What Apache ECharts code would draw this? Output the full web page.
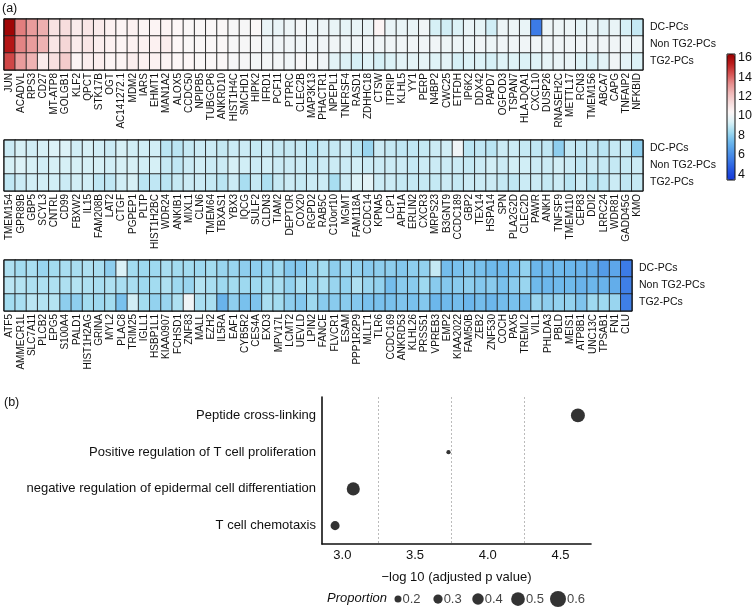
<!DOCTYPE html>
<html>
<head>
<meta charset="utf-8">
<script src="https://cdn.jsdelivr.net/npm/echarts@6/dist/echarts.min.js"></script>
<style>
  html, body { margin: 0; padding: 0; background: #fff; }
  #chart { width: 755px; height: 608px; }
</style>
</head>
<body>
<div id="chart"></div>
<script>
// rows of every heatmap panel
var groups = ['DC-PCs', 'Non TG2-PCs', 'TG2-PCs'];

// panel 1
var genes1 = ['JUN','ACADVL','RPS3','CD27','MT-ATP8','GOLGB1','KLF2','QPCT','STK17B','OGT','AC141272.1','MDM2','IARS','EHMT1','MAN1A2','ALOX5','CCDC50','NPIPB5','TUBGCP6','ANKRD10','HIST1H4C','SMCHD1','HIPK2',
  'IFRD1','PCF11','PTPRC','CLEC2B','MAP3K13','PHACTR1','NPEPL1','TNFRSF4','RASD1','ZDHHC18','CTSW','ITPRIP','KLHL5','YY1','PERP','N4BP2','CWC25','ETFDH','IP6K2','DDX42','PAPD7','OGFOD3',
  'TSPAN7','HLA-DQA1','CXCL10','DUSP26','RNASEH2C','METTL17','RCN3','TMEM156','ABCA7','CAPG','TNFAIP2','NFKBID'];
var dc1  = [16.2,13.6,13.0,12.6,11.1,11.3,10.8,11.0,10.8,10.6,10.5,10.6,10.5,10.5,10.5,10.4,10.3,10.3,10.3,10.3,10.2,10.2,10.3,
  9.8,9.8,9.9,10.1,9.9,9.9,9.8,9.7,9.8,9.8,10.5,9.8,9.8,9.8,10.0,9.3,9.2,9.4,9.8,9.7,9.2,9.9,
  9.9,9.8,5.5,9.9,9.9,9.9,9.7,9.8,9.6,9.8,9.3,9.0];
var non1 = [15.6,13.5,13.0,12.5,11.0,11.5,10.8,11.0,10.7,10.6,10.5,10.6,10.6,10.6,10.7,10.4,10.3,10.3,10.3,10.3,10.2,10.2,10.2,
  10.0,10.0,10.0,10.0,10.0,10.0,10.0,9.9,10.0,10.0,10.0,10.0,10.0,10.0,10.0,10.0,9.9,9.9,9.9,10.0,9.9,10.0,
  10.0,10.0,10.0,10.0,10.0,10.0,10.0,10.0,10.0,10.0,9.9,9.9];
var tg1  = [14.6,13.0,12.5,10.8,11.2,11.8,10.5,10.7,10.7,10.5,10.5,10.7,10.6,10.6,10.5,10.4,10.4,10.3,10.3,10.3,10.2,10.2,10.1,
  10.1,10.1,10.0,10.2,10.1,10.0,9.6,9.4,9.3,9.5,9.3,9.4,9.6,9.6,9.7,9.5,9.6,9.3,9.4,9.4,9.3,9.5,
  9.5,9.4,9.5,9.7,9.8,9.8,9.5,9.4,9.6,10.0,9.6,9.4];

// panel 2
var genes2 = ['TMEM154','GPR89B','GBP5','SCYL3','CNTRL','CD99','FBXW2','IL15','FAM208B','LAT2','CTGF','PGPEP1','PLTP','HIST1H2BC','WDR24','ANKIB1','MIXL1','CLN6','TMEM64','TBXAS1','YBX3','IQCG','SULF2',
  'CLDN3','TIAM2','DEPTOR','COX20','RGPD2','RAB5C','C10orf10','MGMT','FAM118A','CCDC14','KPNA5','LCP1','APH1A','ERLIN2','CXCR3','MRPS23','B3GNT9','CCDC189','GBP2','TEX14','HSPA14','SPN',
  'PLA2G2D','CLEC2D','PAWR','ANKH','TNFSF9','TMEM110','CEP83','DDI2','LRRC24','WDR81','GADD45G','KMO'];
var dc2  = [9.1,9.3,9.2,9.3,9.4,9.4,9.2,9.3,9.2,9.1,9.3,9.2,9.2,9.2,8.8,8.8,9.0,9.1,9.1,9.0,9.1,9.1,9.0,
  9.1,9.0,9.0,9.0,8.8,9.0,9.0,9.1,8.8,8.2,9.1,9.0,8.9,8.9,9.0,9.1,9.2,10.0,8.8,8.9,8.8,9.1,
  9.1,9.0,8.9,8.9,8.0,9.0,8.9,8.9,8.8,9.0,9.0,8.0];
var non2 = [9.3,9.4,9.3,9.2,9.3,9.3,9.3,9.3,9.3,9.2,9.3,9.3,9.2,9.3,9.0,8.9,9.1,9.2,9.1,9.1,9.3,9.2,9.1,
  9.2,9.1,9.1,9.1,9.0,9.1,9.1,9.1,9.2,9.1,9.1,9.1,9.1,9.0,9.1,9.1,9.1,9.1,9.0,9.1,9.2,9.1,
  9.2,9.2,9.1,9.1,9.2,9.1,8.9,9.1,9.0,9.0,9.0,9.1];
var tg2  = [8.9,9.1,9.2,9.2,9.2,9.1,9.2,9.2,8.9,8.9,9.2,9.3,8.8,8.9,8.8,9.0,9.1,9.1,9.0,8.8,9.1,8.5,9.0,
  8.6,9.0,9.1,9.0,9.1,9.1,8.5,9.1,9.4,9.6,9.1,9.1,9.0,9.0,9.0,9.0,9.1,9.0,9.1,9.1,9.1,9.0,
  8.9,9.1,9.1,9.0,9.1,8.8,9.1,8.8,8.9,9.1,8.9,9.0];

// panel 3
var genes3 = ['ATF5','AMMECR1L','SLC7A11','PLCB2','EPG5','S100A4','PALD1','HIST1H2AG','GRINA','MYL2','PLAC8','TRIM25','IGLL1','HSBP1L1','KIAA0907','FCHSD1','ZNF83','MALL','EZH2','IL5RA','EAF1','CYB5R2','CES4A',
  'EXD3','MPV17L','LCMT2','UEVLD','LPIN2','FANCE','FLVCR1','ESAM','PPP1R2P9','MLLT1','TLR6','CCDC169','ANKRD53','KLHL26','PRSS51','VPREB3','EMP2','KIAA2022','FAM50B','ZEB2','ZNF530','COCH',
  'PAX5','TREML2','VIL1','PHLDA3','PBLD','MEIS1','ATP8B1','UNC13C','TPSAB1','FN1','CLU'];
var dc3  = [8.6,8.4,8.5,8.2,8.4,8.5,8.5,8.6,8.5,8.0,9.4,8.4,8.3,8.3,8.5,8.4,8.4,8.3,8.4,8.2,8.2,8.0,8.0,
  8.1,8.3,7.8,7.8,8.2,8.4,8.0,8.2,8.1,7.9,8.0,8.0,7.8,8.0,8.1,9.0,7.5,7.6,7.8,7.6,7.4,7.4,
  7.6,8.1,7.3,7.3,7.4,7.3,7.2,7.0,6.5,6.8,5.5];
var non3 = [8.8,8.7,8.6,8.6,8.6,8.6,8.7,8.6,8.5,8.6,8.5,8.5,8.3,8.4,8.6,8.3,8.2,8.7,8.5,8.3,8.4,8.3,8.3,
  8.4,8.5,8.1,8.5,8.3,8.5,8.2,8.1,8.6,8.2,8.1,7.5,7.9,7.9,8.3,7.9,7.8,7.9,8.0,7.8,7.9,7.6,
  7.9,8.2,7.4,7.3,7.4,7.4,7.2,7.3,7.2,7.0,5.6];
var tg3  = [8.4,8.5,8.8,8.7,8.7,8.0,8.0,8.4,8.3,8.4,7.6,9.2,8.4,8.1,8.2,8.6,10.0,8.5,8.5,7.2,8.0,7.6,7.7,
  8.5,8.4,8.0,7.8,8.3,7.9,7.9,7.9,7.8,7.6,7.6,7.6,7.7,7.6,7.8,7.3,7.4,7.5,7.3,7.5,7.3,7.5,
  7.6,7.5,8.2,8.0,8.1,8.1,7.7,8.3,8.3,8.2,5.6];

var colorTicks = [4, 6, 8, 10, 12, 14, 16];

// panel (b)
var terms = ['Peptide cross-linking','Positive regulation of T cell proliferation','negative regulation of epidermal cell differentiation','T cell chemotaxis'];
var logP = [4.62, 3.73, 3.075, 2.95];
var proportion = [0.51, 0.08, 0.47, 0.29];
var pTicks = [3.0, 3.5, 4.0, 4.5];
var pGuides = [3.25, 3.75, 4.25];
var legendSizes = [0.2, 0.3, 0.4, 0.5, 0.6];

var FONT = '"Liberation Sans", Arial, Helvetica, sans-serif';
var BIG = 13;

function dotSize(p) {
    return Math.max(3.5, 7 + (p - 0.2) * 22.5);
}

function cells(r1, r2, r3) {
    var out = [];
    [r1, r2, r3].forEach(function(row, y) {
        row.forEach(function(v, x) { out.push([x, y, v]); });
    });
    return out;
}

var panels = [
    { genes: genes1, data: cells(dc1, non1, tg1), top: 19, left: 4, width: 639 },
    { genes: genes2, data: cells(dc2, non2, tg2), top: 140, left: 4, width: 639 },
    { genes: genes3, data: cells(dc3, non3, tg3), top: 260, left: 4, width: 628 }
];

var grid = [], xAxis = [], yAxis = [], series = [];

panels.forEach(function(p, i) {
    grid.push({ left: p.left, top: p.top, width: p.width, height: 51,
        show: true, borderColor: '#111', borderWidth: 1, backgroundColor: 'transparent', z: 3 });
    xAxis.push({
        type: 'category', gridIndex: i, data: p.genes,
        axisLine: { show: false }, axisTick: { show: false }, splitArea: { show: false },
        axisLabel: { interval: 0, rotate: 90, fontSize: 10, margin: 3, color: '#111', fontFamily: FONT }
    });
    yAxis.push({
        type: 'category', gridIndex: i, data: groups, inverse: true, position: 'right',
        axisLine: { show: false }, axisTick: { show: false },
        axisLabel: { fontSize: 10.5, margin: 7, color: '#111', fontFamily: FONT }
    });
    series.push({
        type: 'heatmap', xAxisIndex: i, yAxisIndex: i, data: p.data,
        itemStyle: { borderColor: '#222', borderWidth: 0.9 },
        emphasis: { disabled: true }
    });
});

// (b) dot plot
grid.push({ left: 322, top: 397, width: 269, height: 147 });
xAxis.push({
    type: 'value', gridIndex: 3, min: 2.86, max: 4.71,
    axisLine: { show: true, lineStyle: { color: '#111', width: 1.6 } },
    axisTick: { show: false }, splitLine: { show: false },
    axisLabel: { customValues: pTicks, formatter: function(v) { return v.toFixed(1); },
        fontSize: BIG, margin: 5, color: '#111', fontFamily: FONT },
    name: '\u2212log 10 (adjusted p value)', nameLocation: 'middle', nameGap: 27,
    nameTextStyle: { fontSize: BIG, color: '#111', fontFamily: FONT }
});
yAxis.push({
    type: 'category', gridIndex: 3, data: terms, inverse: true,
    axisLine: { show: true, lineStyle: { color: '#111', width: 1.6 } },
    axisTick: { show: false },
    axisLabel: { fontSize: BIG, margin: 6, color: '#111', fontFamily: FONT }
});
series.push({
    type: 'scatter', xAxisIndex: 3, yAxisIndex: 3,
    data: logP.map(function(v, i) { return [v, i, proportion[i]]; }),
    symbolSize: function(d) { return dotSize(d[2]); },
    itemStyle: { color: '#000' },
    markLine: {
        silent: true, symbol: 'none', label: { show: false },
        lineStyle: { type: [2, 2], color: '#aaa', width: 0.8 },
        data: pGuides.map(function(v) { return { xAxis: v }; })
    }
});

// size legend
grid.push({ left: 378, top: 592, width: 200, height: 14 });
xAxis.push({ type: 'category', gridIndex: 4, show: false, data: legendSizes.map(String) });
yAxis.push({ type: 'value', gridIndex: 4, show: false, min: 0, max: 1 });
series.push({
    type: 'scatter', xAxisIndex: 4, yAxisIndex: 4,
    data: legendSizes.map(function(p, i) { return [i, 0.5, p]; }),
    symbolSize: function(d) { return dotSize(d[2]); },
    itemStyle: { color: '#000' },
    label: { show: true, position: 'right', distance: 1, fontSize: BIG, color: '#111', fontFamily: FONT,
        formatter: function(o) { return o.data[2].toFixed(1); } }
});

// colour bar frame and ticks
grid.push({ left: 727, top: 54, width: 8, height: 126, show: true, borderColor: '#111', borderWidth: 1,
    backgroundColor: 'transparent', z: 10 });
xAxis.push({ type: 'value', gridIndex: 5, show: false });
yAxis.push({
    type: 'value', gridIndex: 5, min: 3.4, max: 16.4, position: 'right',
    axisLine: { show: false }, axisTick: { show: false }, splitLine: { show: false },
    axisLabel: { customValues: colorTicks, fontSize: 12.5, margin: 3, color: '#111', fontFamily: FONT }
});

var chart = echarts.init(document.getElementById('chart'), null, { renderer: 'canvas' });
chart.setOption({
    animation: false,
    backgroundColor: '#fff',
    textStyle: { fontFamily: FONT },
    grid: grid,
    xAxis: xAxis,
    yAxis: yAxis,
    visualMap: {
        type: 'continuous', min: 3.4, max: 16.4, seriesIndex: [0, 1, 2], dimension: 2,
        left: 727, top: 54, itemWidth: 8, itemHeight: 126, padding: 0,
        calculable: false, text: ['', ''], showLabel: false, hoverLink: false,
        inRange: { color: ['#1538d8','#2455e0','#3a78e6','#5199e8','#6fbaec','#a3dcf0','#dcf2f7',
                           '#fdf7f7','#f6dada','#f0b8b8','#e58a8a','#d55050','#bb1c1c','#990000'] }
    },
    graphic: [
        { type: 'text', left: 2, top: 2, style: { text: '(a)', fontSize: 12.5, fill: '#111', fontFamily: FONT } },
        { type: 'text', left: 4, top: 396, style: { text: '(b)', fontSize: 12.5, fill: '#111', fontFamily: FONT } },
        { type: 'text', left: 327, top: 592, style: { text: 'Proportion', fontSize: BIG, fontStyle: 'italic', fill: '#111', fontFamily: FONT } }
    ],
    series: series
});
</script>
</body>
</html>
